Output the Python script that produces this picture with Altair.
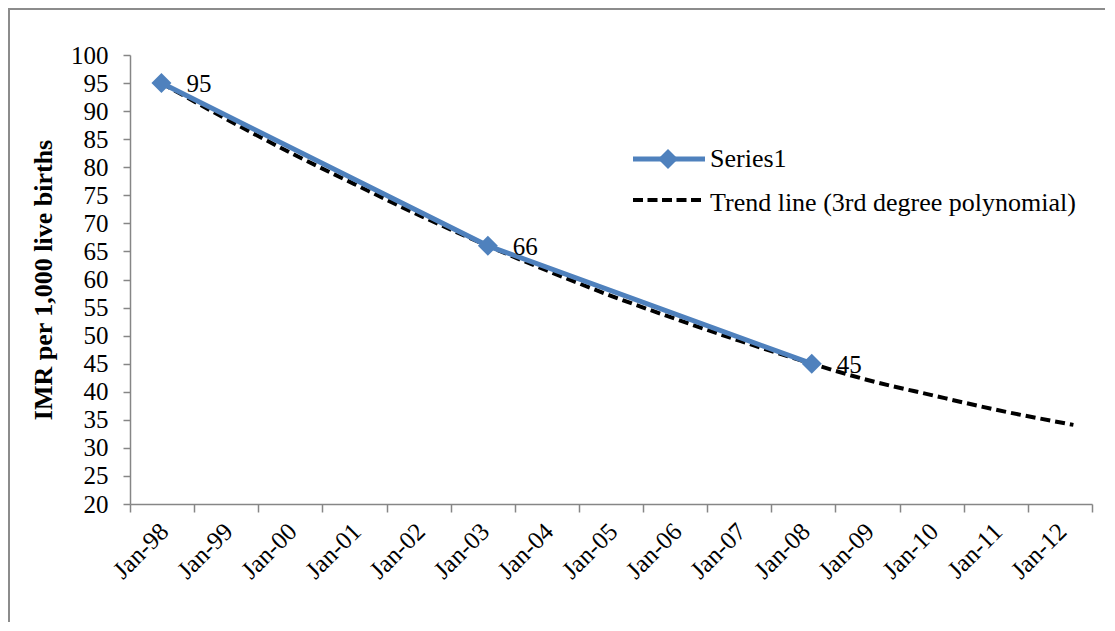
import altair as alt
import pandas as pd

# ---- data ----
series_name = "Series1"
series_x = [1998.49, 2003.58, 2008.63]   # position on the year axis
series_y = [95, 66, 45]

trend_name = "Trend line (3rd degree polynomial)"
trend_x = [1998.49, 1999.5, 2000.5, 2001.5, 2002.5, 2003.58, 2004.5, 2005.5,
           2006.5, 2007.5, 2008.63, 2009.5, 2010.5, 2011.5, 2012.71]
trend_y = [95.0, 88.6, 82.6, 77.0, 71.5, 66.0, 61.6, 57.1,
           53.0, 49.1, 45.0, 42.1, 39.4, 36.8, 34.1]

year_ticks = list(range(1998, 2014))
y_ticks = list(range(20, 101, 5))
y_title = "IMR per 1,000 live births"

FONT = "Liberation Serif"
BLUE = "#4F81BD"
GRAY = "#868686"

series_df = pd.DataFrame({"x": series_x, "y": series_y,
                          "label": [str(v) for v in series_y]})
trend_df = pd.DataFrame({"x": trend_x, "y": trend_y})

x_scale = alt.Scale(domain=[1998, 2013], nice=False, zero=False)
y_scale = alt.Scale(domain=[20, 100], nice=False, zero=False)

x_axis = alt.Axis(
    values=year_ticks,
    labelExpr="datum.value < 2013 ? 'Jan-' + substring(toString(datum.value), 2, 4) : ''",
    labelAngle=315, labelAlign="right", labelBaseline="middle",
    labelOffset=34, labelPadding=15, tickSize=8, labelOverlap=False,
    labelBound=False, labelFlush=False, grid=False, title=None,
)
y_axis = alt.Axis(
    values=y_ticks, tickSize=7, labelPadding=15, grid=False,
    title=y_title, titleFontWeight="bold", titleFontSize=26,
    titlePadding=14, labelOverlap=False, labelFlush=False,
)

X = alt.X("x:Q", scale=x_scale, axis=x_axis)
Y = alt.Y("y:Q", scale=y_scale, axis=y_axis)

frame = alt.Chart(pd.DataFrame({"a": [0]})).mark_rect(
    fill=None, stroke="#8c8c8c", strokeWidth=2
).encode(x=alt.value(-121), x2=alt.value(3000), y=alt.value(-46), y2=alt.value(3000))

series_line = alt.Chart(series_df).mark_line(
    color=BLUE, strokeWidth=5
).encode(x=X, y=Y)

trend_line = alt.Chart(trend_df).mark_line(
    color="black", strokeWidth=4, strokeDash=[10, 5], interpolate="monotone"
).encode(x=X, y=Y)

series_pts = alt.Chart(series_df).mark_point(
    shape="diamond", filled=True, size=400, color=BLUE, opacity=1
).encode(x=X, y=Y)

series_lbl = alt.Chart(series_df).mark_text(
    align="left", baseline="middle", dx=25, dy=1, font=FONT, fontSize=25, color="black"
).encode(x=X, y=Y, text="label:N")

# ---- hand-drawn legend (pixel positions inside the plot area) ----
leg = pd.DataFrame({"a": [0]})
leg_s_line = alt.Chart(leg).mark_rule(color=BLUE, strokeWidth=5).encode(
    x=alt.value(503), x2=alt.value(575), y=alt.value(104))
leg_s_pt = alt.Chart(leg).mark_point(shape="diamond", filled=True, size=400,
                                     color=BLUE, opacity=1).encode(
    x=alt.value(538), y=alt.value(104))
leg_s_txt = alt.Chart(leg).mark_text(align="left", baseline="middle", font=FONT,
                                     fontSize=26, color="black").encode(
    x=alt.value(580), y=alt.value(104), text=alt.value(series_name))
leg_t_line = alt.Chart(leg).mark_rule(color="black", strokeWidth=4,
                                      strokeDash=[10, 4.5]).encode(
    x=alt.value(503), x2=alt.value(575), y=alt.value(145))
leg_t_txt = alt.Chart(leg).mark_text(align="left", baseline="middle", font=FONT,
                                     fontSize=26, color="black").encode(
    x=alt.value(580), y=alt.value(148), text=alt.value(trend_name))

chart = alt.layer(
    frame, trend_line, series_line, series_pts, series_lbl,
    leg_s_line, leg_s_pt, leg_s_txt, leg_t_line, leg_t_txt,
).properties(
    width=962, height=449,
    autosize=alt.AutoSizeParams(type="none"),
    padding={"left": 122, "top": 47, "right": 13, "bottom": 118},
    background="white",
).configure_view(stroke=None).configure_axis(
    labelFont=FONT, titleFont=FONT, labelFontSize=25, labelColor="black",
    titleColor="black", domainColor=GRAY, tickColor=GRAY, domainWidth=1.5,
    tickWidth=1.5,
)

chart.save("out.html", embed_options={"renderer": "svg", "actions": False})
